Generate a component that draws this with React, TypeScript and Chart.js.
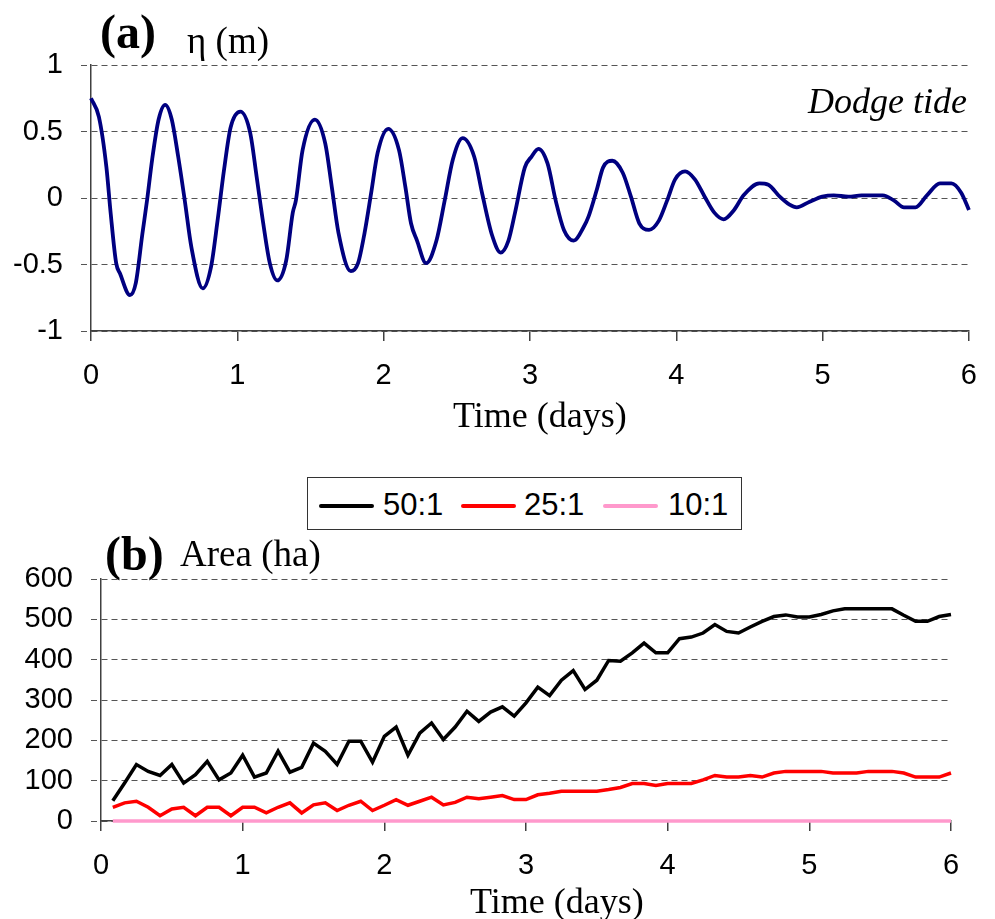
import React, { useEffect, useRef } from "react";
import { Chart, registerables } from "chart.js";

Chart.register(...registerables);

// ---- Panel (a): Dodge tide water level ----
const tideTime = [0, 0.054, 0.105, 0.134, 0.172, 0.199, 0.266, 0.306, 0.351, 0.384, 0.418, 0.462, 0.507, 0.552, 0.596, 0.641, 0.686, 0.764, 0.82, 0.865, 0.909, 0.954, 1.021, 1.088, 1.132, 1.177, 1.222, 1.273, 1.334, 1.379, 1.4, 1.446, 1.53, 1.601, 1.646, 1.691, 1.776, 1.825, 1.87, 1.915, 1.959, 2.031, 2.105, 2.149, 2.187, 2.228, 2.29, 2.361, 2.417, 2.473, 2.54, 2.619, 2.674, 2.741, 2.8, 2.853, 2.898, 2.965, 3.01, 3.058, 3.12, 3.176, 3.232, 3.299, 3.366, 3.4, 3.456, 3.5, 3.563, 3.634, 3.69, 3.747, 3.814, 3.881, 3.937, 3.992, 4.06, 4.127, 4.194, 4.26, 4.323, 4.395, 4.46, 4.568, 4.629, 4.707, 4.774, 4.823, 4.908, 4.998, 5.076, 5.176, 5.266, 5.411, 5.489, 5.556, 5.635, 5.713, 5.802, 5.88, 5.947, 6.0];
const tideEta = [0.75, 0.61, 0.235, -0.11, -0.49, -0.57, -0.73, -0.64, -0.27, -0.01, 0.29, 0.59, 0.7, 0.59, 0.31, -0.02, -0.37, -0.68, -0.52, -0.17, 0.21, 0.53, 0.65, 0.49, 0.16, -0.19, -0.49, -0.62, -0.47, -0.11, -0.02, 0.36, 0.59, 0.41, 0.08, -0.26, -0.55, -0.49, -0.26, 0.04, 0.34, 0.52, 0.36, 0.08, -0.19, -0.32, -0.49, -0.32, -0.02, 0.29, 0.45, 0.31, 0.03, -0.28, -0.41, -0.32, -0.11, 0.23, 0.31, 0.37, 0.26, -0.02, -0.24, -0.32, -0.22, -0.14, 0.06, 0.23, 0.28, 0.19, 0.01, -0.19, -0.24, -0.17, -0.02, 0.14, 0.2, 0.14, 0.01, -0.11, -0.16, -0.09, 0.02, 0.11, 0.1, 0.01, -0.05, -0.07, -0.03, 0.01, 0.02, 0.01, 0.02, 0.02, -0.02, -0.07, -0.07, 0.02, 0.11, 0.11, 0.04, -0.09];
const tideYTicks = [-1, -0.5, 0, 0.5, 1];
const timeTicks = [0, 1, 2, 3, 4, 5, 6];

// ---- Panel (b): flooded area ----
const areaTime = [1, 2, 3, 4, 5, 6, 7, 8, 9, 10, 11, 12, 13, 14, 15, 16, 17, 18, 19, 20, 21, 22, 23, 24, 25, 26, 27, 28, 29, 30, 31, 32, 33, 34, 35, 36, 37, 38, 39, 40, 41, 42, 43, 44, 45, 46, 47, 48, 49, 50, 51, 52, 53, 54, 55, 56, 57, 58, 59, 60, 61, 62, 63, 64, 65, 66, 67, 68, 69, 70, 71, 72].map((h2) => h2 / 12);
const area50 = [50, 94, 140, 123, 113, 140, 94, 115, 148, 102, 119, 163, 109, 119, 173, 121, 133, 193, 173, 140, 198, 198, 146, 210, 233, 163, 218, 243, 202, 233, 272, 247, 270, 283, 260, 293, 332, 311, 349, 373, 326, 349, 398, 396, 417, 441, 417, 417, 452, 456, 466, 487, 470, 466, 481, 495, 507, 511, 506, 506, 512, 521, 526, 526, 526, 526, 526, 510, 495, 495, 507, 512];
const area25 = [34, 45, 49, 34, 13, 30, 34, 13, 34, 34, 13, 34, 34, 20, 34, 45, 20, 40, 45, 26, 39, 49, 26, 39, 53, 39, 49, 59, 40, 46, 59, 55, 59, 63, 53, 53, 65, 69, 74, 74, 74, 74, 78, 83, 93, 93, 88, 93, 93, 93, 102, 113, 109, 109, 113, 109, 119, 123, 123, 123, 123, 119, 119, 119, 123, 123, 123, 119, 109, 109, 109, 119];
const area10 = [0, 0, 0, 0, 0, 0, 0, 0, 0, 0, 0, 0, 0, 0, 0, 0, 0, 0, 0, 0, 0, 0, 0, 0, 0, 0, 0, 0, 0, 0, 0, 0, 0, 0, 0, 0, 0, 0, 0, 0, 0, 0, 0, 0, 0, 0, 0, 0, 0, 0, 0, 0, 0, 0, 0, 0, 0, 0, 0, 0, 0, 0, 0, 0, 0, 0, 0, 0, 0, 0, 0, 0];
const areaYTicks = [0, 100, 200, 300, 400, 500, 600];
const seriesNames = ["50:1", "25:1", "10:1"];
const seriesColors = ["#000000", "#ff0000", "#ff99cc"];

const SANS = "'Liberation Sans', Arial, sans-serif";
const SERIF = "'Liberation Serif', 'Times New Roman', serif";
const AXIS = "#404040";
const GRID = "#555555";
const DASH = [6, 4];

function xScale(axisH: number, pad: number) {
  return {
    type: "linear" as const,
    min: 0,
    max: 6,
    afterBuildTicks: (s: any) => {
      s.ticks = timeTicks.map((v) => ({ value: v }));
    },
    afterFit: (s: any) => {
      s.height = axisH;
    },
    ticks: {
      color: "#000",
      font: { family: SANS, size: 29 },
      padding: pad,
      maxRotation: 0,
      callback: (v: any) => String(v),
    },
    grid: {
      drawOnChartArea: false,
      drawTicks: true,
      tickLength: 10,
      color: AXIS,
      lineWidth: 1.5,
    },
    border: { color: AXIS, width: 1.5 },
  };
}

function yScale(min: number, max: number, ticksArr: number[], w: number) {
  return {
    type: "linear" as const,
    min,
    max,
    afterBuildTicks: (s: any) => {
      s.ticks = ticksArr.map((v) => ({ value: v }));
    },
    afterFit: (s: any) => {
      s.width = w;
    },
    ticks: {
      color: "#000",
      font: { family: SANS, size: 29 },
      padding: 18,
      callback: (v: any) => String(v),
    },
    grid: {
      drawTicks: true,
      tickLength: 10,
      color: GRID,
      lineWidth: 1,
      tickBorderDash: DASH,
      tickColor: GRID,
    },
    border: { color: AXIS, width: 1.5, dash: DASH },
  };
}

function useChart(ref: React.RefObject<HTMLCanvasElement | null>, make: () => any) {
  useEffect(() => {
    if (!ref.current) return;
    const chart = new Chart(ref.current, make());
    return () => chart.destroy();
  }, []);
}

export default function App() {
  const topRef = useRef<HTMLCanvasElement | null>(null);
  const botRef = useRef<HTMLCanvasElement | null>(null);

  useChart(topRef, () => ({
    type: "line",
    data: {
      datasets: [
        {
          label: "η",
          data: tideTime.map((t, i) => ({ x: t, y: tideEta[i] })),
          borderColor: "#000080",
          borderWidth: 3.8,
          pointRadius: 0,
          cubicInterpolationMode: "monotone",
          fill: false,
          clip: false,
        },
      ],
    },
    options: {
      animation: false,
      responsive: false,
      layout: { padding: { left: 0, top: 65, right: 9, bottom: 0 } },
      plugins: { legend: { display: false }, tooltip: { enabled: false } },
      scales: { x: xScale(440 - 331, 18), y: yScale(-1, 1, tideYTicks, 91) },
    },
  }));

  useChart(botRef, () => {
    const sets = [area50, area25, area10];
    return {
      type: "line",
      data: {
        datasets: sets
          .map((arr, k) => ({
            label: seriesNames[k],
            data: areaTime.map((t, i) => ({ x: t, y: arr[i] })),
            borderColor: seriesColors[k],
            borderWidth: 3.5,
            pointRadius: 0,
            tension: 0,
            fill: false,
            clip: false,
          }))
          .reverse(),
      },
      options: {
        animation: false,
        responsive: false,
        layout: { padding: { left: 0, top: 109, right: 44, bottom: 0 } },
        plugins: { legend: { display: false }, tooltip: { enabled: false } },
        scales: { x: xScale(449 - 351, 18), y: yScale(0, 600, areaYTicks, 101) },
      },
    };
  });

  const abs = (l: number, t: number, extra: React.CSSProperties = {}): React.CSSProperties => ({
    position: "absolute",
    left: l,
    top: t,
    lineHeight: 1,
    whiteSpace: "nowrap",
    color: "#000",
    ...extra,
  });

  const legendItems = [
    { sx: 11, tx: 75 },
    { sx: 153, tx: 216 },
    { sx: 295, tx: 360 },
  ];

  return (
    <div style={{ position: "absolute", left: 0, top: 0, width: 995, height: 919, background: "#fff", overflow: "hidden" }}>
      <canvas ref={topRef} width={995} height={440} style={{ position: "absolute", left: 0, top: 0 }} />
      <canvas ref={botRef} width={995} height={449} style={{ position: "absolute", left: 0, top: 470 }} />

      <div style={abs(100, 8, { fontFamily: SERIF, fontWeight: "bold", fontSize: 48 })}>(a)</div>
      <div style={abs(187, 22, { fontFamily: SERIF, fontSize: 37 })}>η (m)</div>
      <div style={abs(808, 83, { fontFamily: SERIF, fontStyle: "italic", fontSize: 36 })}>Dodge tide</div>
      <div style={abs(453, 397, { fontFamily: SERIF, fontSize: 36 })}>Time (days)</div>

      <div style={abs(105, 530, { fontFamily: SERIF, fontWeight: "bold", fontSize: 48 })}>(b)</div>
      <div style={abs(180, 535, { fontFamily: SERIF, fontSize: 37 })}>Area (ha)</div>
      <div style={abs(470, 883, { fontFamily: SERIF, fontSize: 36 })}>Time (days)</div>

      <div
        style={{
          position: "absolute",
          left: 307,
          top: 477,
          width: 433,
          height: 51,
          border: "1px solid #333",
          background: "#fff",
        }}
      >
        {legendItems.map((it, k) => (
          <React.Fragment key={k}>
            <div
              style={{
                position: "absolute",
                left: it.sx,
                top: 26,
                width: 55,
                height: 4,
                borderRadius: 2,
                background: seriesColors[k],
              }}
            />
            <div style={abs(it.tx, 11, { fontFamily: SANS, fontSize: 31 })}>{seriesNames[k]}</div>
          </React.Fragment>
        ))}
      </div>
    </div>
  );
}
